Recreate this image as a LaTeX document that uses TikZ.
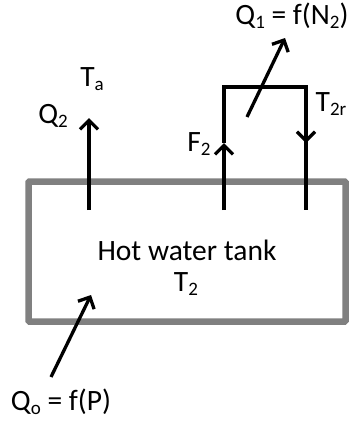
\documentclass[tikz,border=0pt]{standalone}
\usepackage{fontspec}
\setmainfont{Carlito}
\usetikzlibrary{arrows.meta}
\newcommand{\lowsub}[1]{\raisebox{-0.12em}{\fontsize{19}{19}\selectfont #1}}
\begin{document}
\begin{tikzpicture}[x=1pt,y=-1pt,
  lbl/.style={inner sep=0pt,font=\fontsize{29.5}{32}\selectfont,text=black},
  flow/.style={line width=3.3pt,black,-{Straight Barb[length=9pt,width=18pt,line width=3.3pt]}},
  pipe/.style={line width=3.3pt,black},
  tank/.style={draw=black!50,line width=6.5pt,rounded corners=1pt}]
\useasboundingbox (0,0) rectangle (349,421);
\draw[tank] (28.5,181.5) rectangle (345.5,321.5);
\node[lbl] (tanklbl) at (187,250) {Hot water tank};
\node[lbl] (t2) at (186,284) {T\lowsub{2}};
% Q2
\coordinate (q2bot) at (89,210);
\coordinate (q2tip) at (89,118);
\draw[flow] (q2bot) -- (q2tip);
\node[lbl] (q2) at (53,116) {Q\lowsub{2}};
\node[lbl] (ta) at (92,79) {T\lowsub{a}};
% F2 loop
\coordinate (f2bot) at (224,210);
\coordinate (f2tip) at (224,143);
\coordinate (lt) at (224,87);
\coordinate (rt) at (306,87);
\coordinate (rtip) at (306,143);
\coordinate (rbot) at (306,210);
\draw[flow] (f2bot) -- (f2tip);
\draw[pipe] (f2tip) -- (lt) -- (rt) -- (rtip);
\draw[flow] (rt) -- (rtip);
\draw[pipe] (rtip) -- (rbot);
\node[lbl] (f2) at (199,144) {F\lowsub{2}};
\node[lbl] (t2r) at (331,104) {T\lowsub{2r}};
% Q1
\coordinate (q1s) at (247,117);
\coordinate (q1e) at (285,38);
\draw[flow] (q1s) -- (q1e);
\node[lbl] (q1) at (292,16) {Q\lowsub{1} = f(N\lowsub{2})};
% Q0
\coordinate (q0s) at (51,377);
\coordinate (q0e) at (91,295);
\draw[flow] (q0s) -- (q0e);
\node[lbl] (q0) at (61,402) {Q\lowsub{o} = f(P)};
\end{tikzpicture}
\end{document}
